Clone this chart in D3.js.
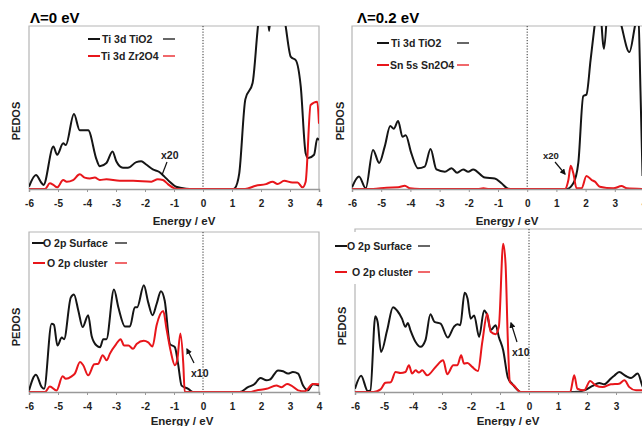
<!DOCTYPE html>
<html>
<head>
<meta charset="utf-8">
<script src="https://cdn.jsdelivr.net/npm/d3@7"></script>
<style>
  body { margin: 0; background: #fff; }
  svg { font-family: "Liberation Sans", Arial, sans-serif; }
  .tick text { font-size: 10px; font-weight: bold; fill: #222; }
  .lbl { font-weight: bold; fill: #222; }
</style>
</head>
<body>
<script>
// energy ticks shared by all four panels
var energyTicks = [-6, -5, -4, -3, -2, -1, 0, 1, 2, 3, 4];

// [energy (eV), PEDOS (arb. units, 0-100 = frame height)]
var tiTiO2_0 = [[-6,1.4],[-5.76,8.6],[-5.56,3.5],[-5.5,2.5],[-5.16,26],[-5.03,21],[-4.82,28],[-4.73,27],
  [-4.45,46],[-4.25,36],[-4.08,36],[-3.96,36],[-3.67,18],[-3.56,14],[-3.33,16],[-3.12,23],[-2.99,17],
  [-2.76,13],[-2.59,13],[-2.3,16.5],[-2.13,17],[-1.96,15],[-1.73,12],[-1.52,10.6],[-1.33,7.6],[-1.15,4.5],
  [-0.93,1.4],[-0.58,0.2],[-0.35,0],[1.05,0],[1.1,0.5],[1.25,9.6],[1.46,55],[1.71,65],[1.88,97],[2.0,118],
  [2.15,122],[2.28,97],[2.42,125],[2.7,118],[2.85,100],[3.03,81],[3.2,79],[3.37,63],[3.54,22],[3.63,19],
  [3.83,21],[3.94,31],[4,30]];
var tiZr2O4 = [[-6,0],[-5.45,0],[-5.28,3.5],[-5.16,2.5],[-5.03,1],[-4.82,5.5],[-4.7,4.5],[-4.48,5.5],
  [-4.25,9],[-4.08,7],[-3.9,6.5],[-3.73,7],[-3.56,5.5],[-3.33,6],[-2.87,5],[-2.41,5],[-1.78,4.5],[-1.56,6],
  [-1.38,5.5],[-1.21,3],[-0.98,0.4],[-0.8,0],[1.45,0],[1.82,2],[2.17,3],[2.4,4.5],[2.57,3],[2.8,5],[3.08,4],
  [3.26,4],[3.43,1],[3.54,4.5],[3.71,51.5],[3.94,53.6],[4,40]];

var tiTiO2_02 = [[-6,1],[-5.76,7.6],[-5.53,0.4],[-5.28,24],[-5.07,16],[-4.88,26],[-4.69,38.6],[-4.57,37],
  [-4.42,41.7],[-4.27,32],[-4.16,33],[-3.97,22],[-3.74,12.7],[-3.51,13.7],[-3.31,24.5],[-3.11,12],
  [-2.82,10.6],[-2.59,12.7],[-2.4,10],[-2.19,12],[-2.02,10.6],[-1.85,12],[-1.45,7],[-1.11,6.5],[-0.88,3.5],
  [-0.65,0.2],[-0.5,0],[1.35,0],[1.58,3.5],[1.75,16],[1.92,57],[2.03,58],[2.17,79],[2.32,102],[2.45,120],
  [2.63,86],[2.8,120],[3.0,118],[3.23,100],[3.5,84],[3.69,100],[3.8,110],[3.88,60],[3.95,8]];
var sn5sSn2O4 = [[-6,0],[-5.28,0],[-4.82,0.8],[-4.42,1],[-4.19,2],[-4.02,0.4],[-3.68,0],[-1.7,0],[-1.5,0.4],
  [-1.3,0],[1.29,0],[1.41,5.5],[1.49,14.3],[1.58,9.6],[1.69,0.4],[1.86,0.4],[2.03,8],[2.21,5.5],[2.32,4.5],
  [2.49,1.4],[2.95,0.4],[3.23,1.8],[3.41,0.4],[4,0]];

var o2pSurface_0 = [[-6,1],[-5.76,10.8],[-5.56,3],[-5.48,2],[-5.22,42.7],[-5.14,42],[-5.02,29],[-4.87,34],
  [-4.79,33],[-4.56,59],[-4.45,61],[-4.3,51],[-4.15,40.6],[-3.96,48],[-3.84,35],[-3.67,29],[-3.55,28],
  [-3.44,33],[-3.33,33],[-3.07,64],[-2.92,53],[-2.69,41],[-2.52,41],[-2.35,53],[-2.27,53],[-2.04,66.7],
  [-1.89,56],[-1.74,48],[-1.6,55],[-1.45,63],[-1.32,57],[-1.14,30],[-0.97,28],[-0.86,17.7],[-0.74,4],
  [-0.51,2],[-0.34,0],[1.27,0],[1.55,3],[1.78,5],[1.98,8.75],[2.19,7.3],[2.3,7.7],[2.59,13.5],[2.76,13],
  [2.93,11.5],[3.1,12.5],[3.28,11.5],[3.45,4],[3.62,1],[3.79,4.8],[4,4]];
var o2pCluster_0 = [[-6,0],[-5.45,0],[-5.28,3.5],[-5.05,1],[-4.84,9.8],[-4.73,8.3],[-4.53,9.8],[-4.42,11.5],
  [-4.24,18.75],[-4.13,16.7],[-3.96,10.4],[-3.75,17.3],[-3.61,17.7],[-3.46,23],[-3.32,19.8],[-3.21,24],
  [-3,29.8],[-2.84,33],[-2.72,29],[-2.57,29],[-2.41,27],[-2.29,30],[-2.04,32],[-1.89,31],[-1.74,28.5],
  [-1.6,41.7],[-1.37,50.6],[-1.26,39.6],[-1.12,26],[-0.97,16.7],[-0.89,19.8],[-0.78,36.5],[-0.68,17.7],
  [-0.63,0],[1.6,0],[1.84,1],[2.19,2],[2.53,4],[2.71,3],[2.9,5],[3.05,4],[3.28,1],[3.51,0.4],[3.79,5],[4,4.8]];

var o2pSurface_02 = [[-6,2],[-5.79,10],[-5.56,0.6],[-5.47,1],[-5.3,46.5],[-5.22,43],[-5.1,24.6],[-4.89,38],
  [-4.69,52],[-4.55,50],[-4.38,45],[-4.26,40],[-4.18,42.4],[-4.09,38],[-3.91,30.7],[-3.74,27.7],[-3.57,31.8],
  [-3.4,47.7],[-3.26,43],[-3.05,42],[-2.8,33.4],[-2.59,40],[-2.47,41.6],[-2.37,41],[-2.22,60.9],[-2.12,57.4],
  [-2.01,45],[-1.89,47],[-1.72,33.8],[-1.55,50],[-1.44,47],[-1.32,38],[-1.15,41],[-1.04,33.8],[-0.89,25.6],
  [-0.73,9],[-0.58,5],[-0.4,1.4],[-0.29,0],[1.56,0],[1.9,1],[2.19,3.7],[2.42,5.5],[2.59,4.7],[2.82,8.2],
  [2.94,10],[3.11,12.3],[3.34,9.8],[3.52,8.6],[3.75,11.3],[3.93,3],[4,2]];
var o2pCluster_02 = [[-6,0],[-5.36,0],[-5.12,1.6],[-4.95,5.7],[-4.77,6],[-4.6,12.3],[-4.43,11.7],[-4.26,12.3],
  [-4.14,16.4],[-4.03,11.3],[-3.91,13.3],[-3.8,11.9],[-3.68,13.3],[-3.51,10.2],[-3.22,15.4],[-2.96,19.5],
  [-2.82,10.9],[-2.61,16.4],[-2.47,16.4],[-2.34,22.5],[-2.24,17.4],[-2.12,17.8],[-1.96,15.4],[-1.76,12.9],
  [-1.61,30.7],[-1.44,48],[-1.32,36.9],[-1.15,35.5],[-1.04,40],[-0.89,91],[-0.81,79],[-0.73,31.8],
  [-0.66,6.1],[-0.52,4],[-0.29,0],[1.42,0],[1.56,10.2],[1.67,2],[1.9,1],[2.11,6.8],[2.3,4],[2.54,3],
  [2.82,4.7],[3.11,5.1],[3.29,7.2],[3.46,3],[3.69,1],[4,1]];

var BLACK = "#151515", RED = "#e8161b";

var panels = [
  { x0: 29, x1: 319, top: 26, bottom: 189,
    title: "\u039b=0 eV", titleX: 30, titleY: 23,
    series: [{ d: tiTiO2_0, c: BLACK }, { d: tiZr2O4, c: RED }],
    legend: [
      { name: "Ti 3d TiO2", c: BLACK, lx: 88, tx: 102, dx: 163, y: 39 },
      { name: "Ti 3d Zr2O4", c: RED, lx: 88, tx: 101, dx: 163, y: 56 }],
    note: { t: "x20", tx: 161, ty: 159, fs: 10.5, a: [167, 162, 162, 175], head: false },
    pedos: [16, 121], energy: [184, 225] },
  { x0: 352, x1: 644, top: 26, bottom: 189, noRight: true,
    title: "\u039b=0.2 eV", titleX: 357, titleY: 23,
    series: [{ d: tiTiO2_02, c: BLACK }, { d: sn5sSn2O4, c: RED }],
    legend: [
      { name: "Ti 3d TiO2", c: BLACK, lx: 377, tx: 391, dx: 457, y: 43 },
      { name: "Sn 5s Sn2O4", c: RED, lx: 377, tx: 390, dx: 457, y: 65 }],
    note: { t: "x20", tx: 543, ty: 159, fs: 9.5, a: [555, 162, 565, 174], head: "end" },
    pedos: [340, 121], energy: [507, 225] },
  { x0: 29, x1: 319, top: 232, bottom: 392,
    series: [{ d: o2pSurface_0, c: BLACK }, { d: o2pCluster_0, c: RED }],
    legend: [
      { name: "O 2p Surface", c: BLACK, lx: 32, tx: 43, dx: 115, y: 243 },
      { name: "O 2p cluster", c: RED, lx: 33, tx: 47, dx: 115, y: 263 }],
    note: { t: "x10", tx: 191, ty: 377, fs: 10.5, a: [194, 363, 187, 349], head: "end" },
    pedos: [16, 327], energy: [182, 425] },
  { x0: 355, x1: 645, top: 229, bottom: 392, noRight: true, legendBg: [331, 232, 104, 52],
    series: [{ d: o2pSurface_02, c: BLACK }, { d: o2pCluster_02, c: RED }],
    legend: [
      { name: "O 2p Surface", c: BLACK, lx: 335, tx: 347, dx: 418, y: 246 },
      { name: "O 2p cluster", c: RED, lx: 335, tx: 352, dx: 418, y: 272 }],
    note: { t: "x10", tx: 512, ty: 356, fs: 10.5, a: [517, 342, 511, 323], head: "end" },
    pedos: [342, 326], energy: [508, 425] }
];

var svg = d3.select("body").append("svg")
  .attr("width", 642)
  .attr("height", 426);

svg.append("defs").append("marker")
  .attr("id", "arrow")
  .attr("viewBox", "0 0 10 10")
  .attr("refX", 8).attr("refY", 5)
  .attr("markerWidth", 5).attr("markerHeight", 5)
  .attr("orient", "auto")
  .append("path")
  .attr("d", "M0,0L10,5L0,10z")
  .attr("fill", "#111");

panels.forEach(function(p, i) {
  var x = d3.scaleLinear().domain([-6, 4]).range([p.x0, p.x1]);
  var y = d3.scaleLinear().domain([0, 100]).range([p.bottom, p.top]);
  var g = svg.append("g");

  // plot frame
  g.append("path")
    .attr("d", "M" + p.x0 + "," + p.bottom + "V" + p.top + "H" + p.x1 + (p.noRight ? "" : "V" + p.bottom))
    .attr("fill", "none")
    .attr("stroke", "#b5b5b5")
    .attr("stroke-width", 1.2);

  // dotted zero line
  g.append("line")
    .attr("x1", x(0)).attr("x2", x(0))
    .attr("y1", p.top).attr("y2", p.bottom)
    .attr("stroke", "#333")
    .attr("stroke-width", 1)
    .attr("stroke-dasharray", "1.2,1.6");

  var clipId = "clip" + i;
  svg.append("clipPath").attr("id", clipId)
    .append("rect")
    .attr("x", p.x0).attr("y", p.top)
    .attr("width", p.x1 - p.x0).attr("height", p.bottom - p.top);

  var line = d3.line()
    .x(function(d) { return x(d[0]); })
    .y(function(d) { return y(d[1]); })
    .curve(d3.curveMonotoneX);

  // red drawn last, like the reference
  p.series.forEach(function(s) {
    g.append("path")
      .datum(s.d)
      .attr("clip-path", "url(#" + clipId + ")")
      .attr("d", line)
      .attr("fill", "none")
      .attr("stroke", s.c)
      .attr("stroke-width", 2)
      .attr("stroke-linejoin", "round");
  });

  // bottom axis
  var ax = g.append("g")
    .attr("transform", "translate(0," + p.bottom + ")")
    .call(d3.axisBottom(x).tickValues(energyTicks).tickSize(3).tickPadding(8)
      .tickFormat(function(d) { return String(d); }));
  ax.select(".domain").attr("stroke", "#999").attr("stroke-width", 1.5);
  ax.selectAll(".tick line").attr("stroke", "#999");

  if (p.legendBg) {
    g.append("rect")
      .attr("x", p.legendBg[0]).attr("y", p.legendBg[1])
      .attr("width", p.legendBg[2]).attr("height", p.legendBg[3])
      .attr("fill", "#fff");
  }

  // legend: line, name, trailing dash
  p.legend.forEach(function(l) {
    g.append("line")
      .attr("x1", l.lx).attr("x2", l.lx + 12)
      .attr("y1", l.y).attr("y2", l.y)
      .attr("stroke", l.c).attr("stroke-width", 2);
    g.append("text")
      .attr("class", "lbl")
      .attr("x", l.tx).attr("y", l.y + 4)
      .attr("font-size", 10.5)
      .text(l.name);
    g.append("line")
      .attr("x1", l.dx).attr("x2", l.dx + 12)
      .attr("y1", l.y).attr("y2", l.y)
      .attr("stroke", l.c).attr("stroke-width", 1.3);
  });

  // scale-factor annotation
  var n = p.note;
  g.append("text")
    .attr("class", "lbl")
    .attr("x", n.tx).attr("y", n.ty)
    .attr("font-size", n.fs)
    .text(n.t);
  g.append("line")
    .attr("x1", n.a[0]).attr("y1", n.a[1])
    .attr("x2", n.a[2]).attr("y2", n.a[3])
    .attr("stroke", "#111").attr("stroke-width", 1.2)
    .attr("marker-end", n.head ? "url(#arrow)" : null);

  if (p.title) {
    g.append("text")
      .attr("x", p.titleX).attr("y", p.titleY)
      .attr("font-size", 15)
      .attr("font-weight", "bold")
      .attr("fill", "#000")
      .text(p.title);
  }

  g.append("text")
    .attr("class", "lbl")
    .attr("transform", "translate(" + (p.pedos[0] + 4) + "," + p.pedos[1] + ") rotate(-90)")
    .attr("text-anchor", "middle")
    .attr("font-size", 11)
    .text("PEDOS");

  g.append("text")
    .attr("class", "lbl")
    .attr("x", p.energy[0]).attr("y", p.energy[1])
    .attr("text-anchor", "middle")
    .attr("font-size", 11.5)
    .text("Energy / eV");
});
</script>
</body>
</html>
